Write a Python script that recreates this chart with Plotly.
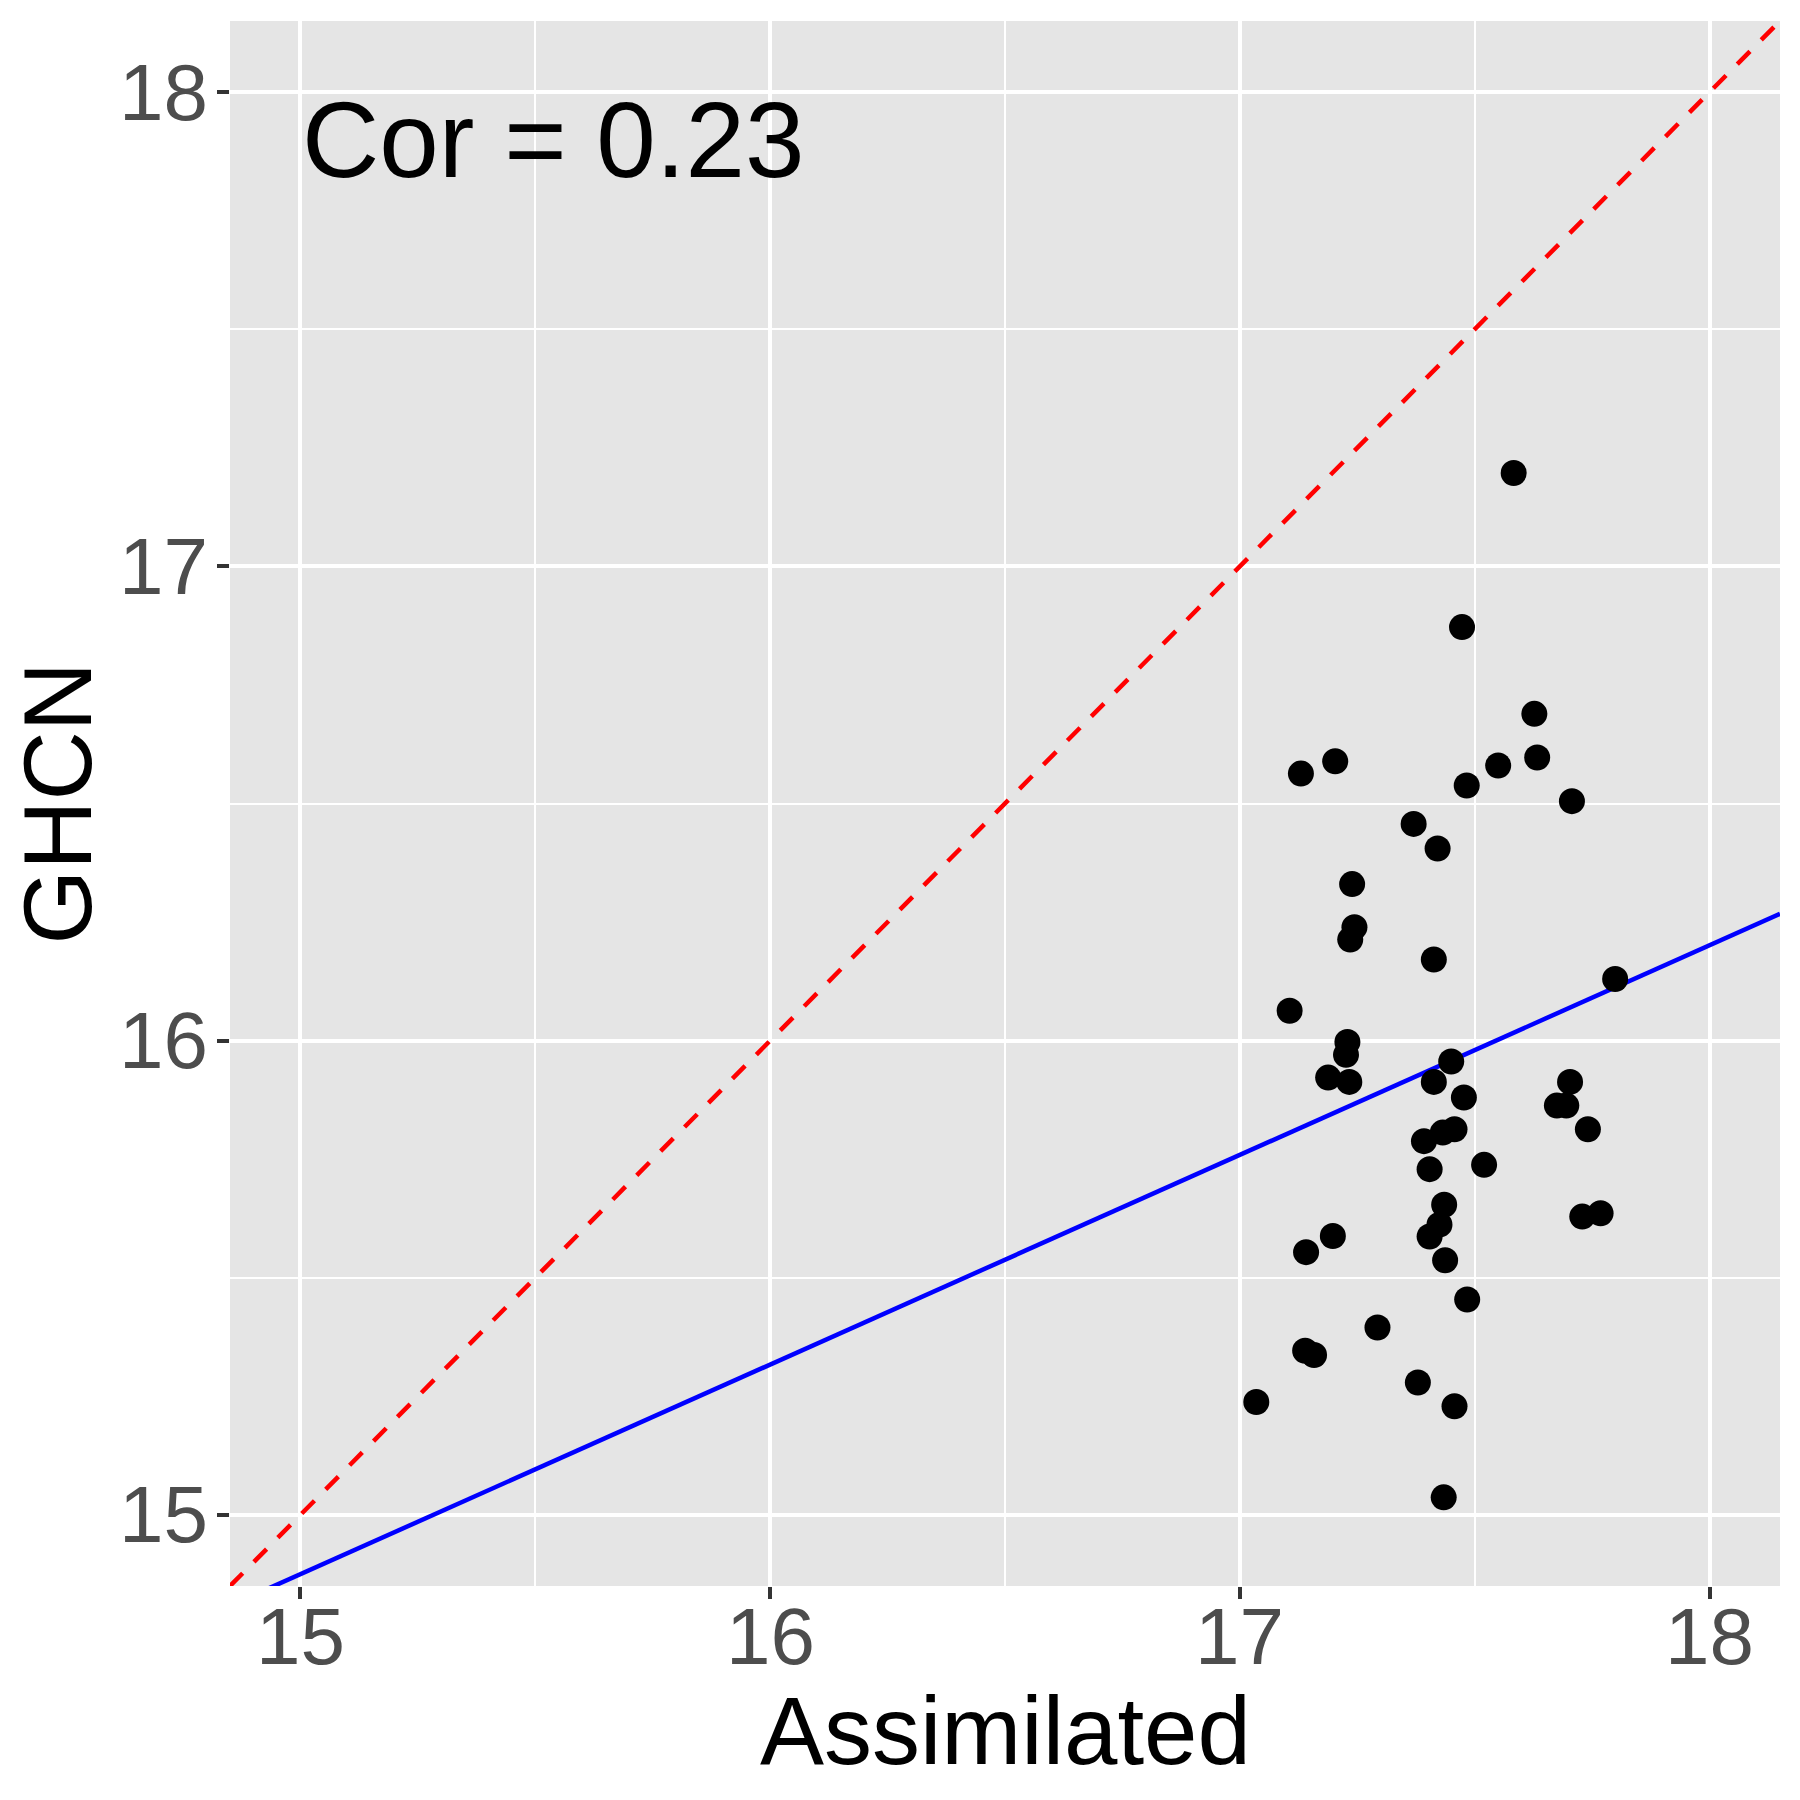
import plotly.graph_objects as go

# ---- data ----
assimilated = [17.583, 17.473, 17.627, 17.130, 17.203, 17.483, 17.550, 17.633, 17.707, 17.370,
               17.421, 17.239, 17.244, 17.235, 17.413, 17.799, 17.106, 17.229, 17.226, 17.450,
               17.188, 17.233, 17.413, 17.703, 17.477, 17.675, 17.695, 17.741, 17.457, 17.432,
               17.392, 17.520, 17.404, 17.435, 17.425, 17.404, 17.437, 17.198, 17.141, 17.729,
               17.768, 17.484, 17.293, 17.139, 17.158, 17.379, 17.035, 17.457, 17.434]
ghcn = [17.197, 16.872, 16.689, 16.563, 16.589, 16.538, 16.580, 16.597, 16.505, 16.457,
        16.405, 16.330, 16.239, 16.213, 16.171, 16.130, 16.063, 15.997, 15.970, 15.956,
        15.922, 15.913, 15.913, 15.913, 15.880, 15.863, 15.863, 15.813, 15.813, 15.806,
        15.788, 15.738, 15.729, 15.654, 15.612, 15.587, 15.537, 15.588, 15.554, 15.629,
        15.636, 15.454, 15.395, 15.346, 15.337, 15.279, 15.238, 15.229, 15.037]
fit_intercept = 8.245
fit_slope = 0.442
cor_label = "Cor = 0.23"
cor_pos = (15.0, 17.9)
axis_limits = [15, 18]
tick_values = [15, 16, 17, 18]
tick_labels = ["15", "16", "17", "18"]
x_title = "Assimilated"
y_title = "GHCN"

# ggplot-style 5% expansion
span = axis_limits[1] - axis_limits[0]
rng = [axis_limits[0] - 0.05 * span, axis_limits[1] + 0.05 * span]

FONT = "Liberation Sans, Arial, Helvetica, sans-serif"
TICK_FONT = dict(family=FONT, size=80, color="#4D4D4D")
TITLE_FONT = dict(family=FONT, size=96, color="black")

fig = go.Figure()

# identity line (red dashed)
fig.add_trace(go.Scatter(x=rng, y=rng, mode="lines",
                         line=dict(color="#FF0000", width=4.5, dash="18px,16px"),
                         hoverinfo="skip", showlegend=False))
# regression line (blue)
fig.add_trace(go.Scatter(x=rng, y=[fit_intercept + fit_slope * v for v in rng], mode="lines",
                         line=dict(color="#0000FF", width=4.5),
                         hoverinfo="skip", showlegend=False))
# points
fig.add_trace(go.Scatter(x=assimilated, y=ghcn, mode="markers",
                         marker=dict(color="black", size=26, line=dict(width=0)),
                         showlegend=False))

axis_common = dict(
    range=rng, tickvals=tick_values, ticktext=tick_labels, showticklabels=False,
    showgrid=True, gridcolor="white", gridwidth=4,
    zeroline=False, showline=False,
    ticks="outside", ticklen=12, tickwidth=3.5, tickcolor="#333333",
    minor=dict(dtick=0.5, tick0=15, showgrid=True, gridcolor="white", gridwidth=2, ticks=""),
)

annotations = []
# tick labels placed at the axes' tick positions
for v, lab in zip(tick_values, tick_labels):
    annotations.append(dict(text=lab, x=v, y=0, xref="x", yref="paper",
                            xanchor="center", yanchor="middle", yshift=-50,
                            showarrow=False, font=TICK_FONT))
    annotations.append(dict(text=lab, x=0, y=v, xref="paper", yref="y",
                            xanchor="right", yanchor="middle", xshift=-20,
                            showarrow=False, font=TICK_FONT))
annotations += [
    dict(text=cor_label, x=cor_pos[0], y=cor_pos[1], xref="x", yref="y",
         xanchor="left", yanchor="middle", showarrow=False,
         font=dict(family=FONT, size=107, color="black")),
    dict(text=x_title, x=0.5, y=0, xref="paper", yref="paper", yshift=-144,
         xanchor="center", yanchor="middle", showarrow=False, font=TITLE_FONT),
    dict(text=y_title, x=0, y=0.5, xref="paper", yref="paper", xshift=-173,
         xanchor="center", yanchor="middle", showarrow=False, textangle=-90,
         font=TITLE_FONT),
]

fig.update_layout(
    width=1800, height=1800,
    margin=dict(l=222, r=28, t=13, b=222, autoexpand=False),
    paper_bgcolor="white", plot_bgcolor="#E5E5E5",
    xaxis=dict(**axis_common),
    yaxis=dict(**axis_common),
    font=dict(family=FONT, color="black"),
    annotations=annotations,
)

fig.write_html("out.html")
